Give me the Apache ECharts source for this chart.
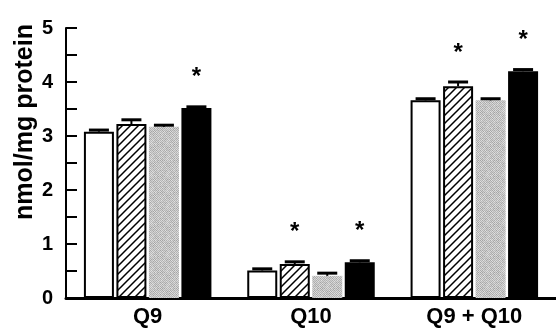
<!DOCTYPE html>
<html>
<head>
<meta charset="utf-8">
<script src="https://cdn.jsdelivr.net/npm/echarts@6/dist/echarts.min.js"></script>
<style>
  html, body { margin: 0; padding: 0; background: #fff; }
  #chart { width: 556px; height: 328px; }
</style>
</head>
<body>
<div id="chart"></div>
<script>
// Quinone content per group (nmol/mg protein)
const categories = ['Q9', 'Q10', 'Q9 + Q10'];
const openValues    = [3.08, 0.51, 3.66];
const hatchedValues = [3.22, 0.63, 3.92];
const greyValues    = [3.17, 0.41, 3.66];
const solidValues   = [3.52, 0.66, 4.20];

// Standard errors
const openErr    = [0.03, 0.03, 0.03];
const hatchedErr = [0.08, 0.04, 0.08];
const greyErr    = [0.03, 0.05, 0.03];
const solidErr   = [0.02, 0.03, 0.03];

// Significance markers (1 = asterisk)
const openSig    = [0, 0, 0];
const hatchedSig = [0, 1, 1];
const greySig    = [0, 0, 0];
const solidSig   = [1, 1, 1];

const yTicks = [0, 1, 2, 3, 4, 5];

const BAR_W = 30;
const BAR_GAP = 2.5;
const FONT = '"Liberation Sans", Arial, sans-serif';

function hatchPattern() {
  const c = document.createElement('canvas');
  c.width = 8; c.height = 8;
  const ctx = c.getContext('2d');
  ctx.fillStyle = '#fff';
  ctx.fillRect(0, 0, 8, 8);
  ctx.strokeStyle = '#000';
  ctx.lineWidth = 1.5;
  ctx.beginPath();
  ctx.moveTo(-1, 9); ctx.lineTo(9, -1);
  ctx.moveTo(-2, 2); ctx.lineTo(2, -2);
  ctx.moveTo(6, 10); ctx.lineTo(10, 6);
  ctx.stroke();
  return c;
}

// Fine grey stipple texture built from a fixed integer hash
function stipplePattern() {
  const n = 16;
  const c = document.createElement('canvas');
  c.width = n; c.height = n;
  const ctx = c.getContext('2d');
  const img = ctx.createImageData(n, n);
  for (let y = 0; y < n; y++) {
    for (let x = 0; x < n; x++) {
      let h = (x * 374761393 + y * 668265263) | 0;
      h = Math.imul(h ^ (h >>> 13), 1274126177);
      h = (h ^ (h >>> 16)) >>> 0;
      const checker = ((x + y) % 2 === 0) ? 176 : 214;
      const k = checker + (h % 25) - 12;
      const i = (y * n + x) * 4;
      img.data[i] = img.data[i + 1] = img.data[i + 2] = k;
      img.data[i + 3] = 255;
    }
  }
  ctx.putImageData(img, 0, 0);
  return c;
}

const groups = [
  { values: openValues, err: openErr, sig: openSig,
    style: { color: '#fff', borderColor: '#000', borderWidth: 2 } },
  { values: hatchedValues, err: hatchedErr, sig: hatchedSig,
    style: { color: { image: hatchPattern(), repeat: 'repeat' }, borderColor: '#000', borderWidth: 2 } },
  { values: greyValues, err: greyErr, sig: greySig,
    style: { color: { image: stipplePattern(), repeat: 'repeat' }, borderWidth: 0 } },
  { values: solidValues, err: solidErr, sig: solidSig,
    style: { color: '#000', borderColor: '#000', borderWidth: 0 } }
];

const series = [];
groups.forEach(function (g) {
  series.push({
    type: 'bar',
    data: g.values,
    barWidth: BAR_W,
    barGap: (BAR_GAP / BAR_W * 100) + '%',
    barCategoryGap: '20%',
    itemStyle: g.style,
    silent: true,
    z: 2
  });
});

groups.forEach(function (g, si) {
  const offset = (si - 1.5) * (BAR_W + BAR_GAP);
  series.push({
    type: 'custom',
    coordinateSystem: 'cartesian2d',
    silent: true,
    z: 5,
    encode: { x: 0, y: 1 },
    data: g.values.map(function (v, i) { return [i, v, g.err[i], g.sig[i]]; }),
    renderItem: function (params, api) {
      const ci = api.value(0);
      const v = api.value(1);
      const e = api.value(2);
      const star = api.value(3);
      const base = api.coord([ci, v]);
      const top = api.coord([ci, v + e]);
      const x = base[0] + offset;
      const capHalf = 10;
      const children = [
        { type: 'line', shape: { x1: x, y1: base[1], x2: x, y2: top[1] },
          style: { stroke: '#000', lineWidth: 2 } },
        { type: 'line', shape: { x1: x - capHalf, y1: top[1], x2: x + capHalf, y2: top[1] },
          style: { stroke: '#000', lineWidth: 3 } }
      ];
      if (star) {
        children.push({
          type: 'text',
          style: {
            text: '*', x: x, y: top[1] - 29,
            fill: '#000', font: 'bold 24px ' + FONT,
            align: 'center', verticalAlign: 'middle'
          }
        });
      }
      return { type: 'group', children: children };
    }
  });
});

const chart = echarts.init(document.getElementById('chart'), null, { renderer: 'canvas' });
chart.setOption({
  animation: false,
  backgroundColor: '#fff',
  grid: { left: 66, top: 28, width: 492, bottom: 29, containLabel: false },
  xAxis: {
    type: 'category',
    data: categories,
    axisLine: { lineStyle: { color: '#000', width: 3 } },
    axisTick: { show: false },
    axisLabel: { color: '#000', fontFamily: FONT, fontWeight: 'bold', fontSize: 22, margin: 8 }
  },
  yAxis: {
    type: 'value',
    min: yTicks[0],
    max: yTicks[yTicks.length - 1],
    interval: 1,
    splitLine: { show: false },
    axisLine: { show: true, lineStyle: { color: '#000', width: 2 } },
    axisTick: { show: true, inside: true, length: 11, lineStyle: { color: '#000', width: 2 } },
    minorTick: { show: true, splitNumber: 2, length: 11, lineStyle: { color: '#000', width: 2 } },
    axisLabel: { color: '#000', fontFamily: FONT, fontWeight: 'bold', fontSize: 20, margin: 13 }
  },
  graphic: [{
    type: 'text',
    x: 25, y: 122,
    rotation: Math.PI / 2,
    style: {
      text: 'nmol/mg protein',
      font: 'bold 25px ' + FONT,
      fill: '#000',
      align: 'center',
      verticalAlign: 'middle'
    }
  }],
  series: series
});
</script>
</body>
</html>
